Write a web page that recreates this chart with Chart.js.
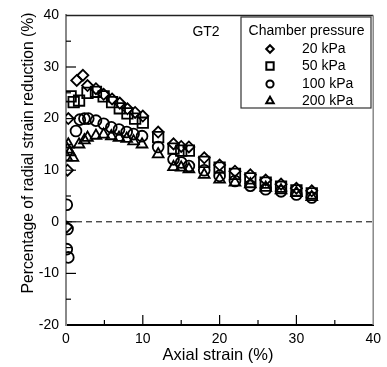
<!DOCTYPE html>
<html><head><meta charset="utf-8">
<script src="https://cdn.jsdelivr.net/npm/chart.js@4/dist/chart.umd.min.js"></script>
<style>html,body{margin:0;padding:0;background:#fff}#wrap{width:387px;height:367px}</style>
</head><body><div id="wrap"><canvas id="c" width="387" height="367"></canvas></div>
<script>
// ---- data ----
const seriesLabels = ['20 kPa', '50 kPa', '100 kPa', '200 kPa'];
const xTicks = [0, 10, 20, 30, 40];
const yTicks = [-20, -10, 0, 10, 20, 30, 40];

const x20  = [0.1, 0.2, 0.3, 1.4, 2.2, 2.8, 3.9, 4.9, 6.0, 7.0, 8.0, 9.0, 10.0, 12, 14, 15, 16, 18, 20, 22, 24, 26, 28, 30, 32];
const y20  = [-1.0, 10.0, 20.0, 27.4, 28.4, 26.4, 25.8, 24.7, 23.8, 23.0, 21.9, 21.2, 20.5, 17.4, 15.1, 14.6, 14.5, 12.4, 11.0, 9.8, 9.1, 8.1, 7.3, 6.5, 6.0];

const x50  = [0.6, 1.0, 1.7, 2.8, 3.9, 4.9, 6.0, 7.0, 8.0, 9.0, 10.0, 12, 14, 15, 16, 18, 20, 22, 24, 26, 28, 30, 32];
const y50  = [24.3, 23.2, 23.5, 25.0, 25.2, 24.3, 23.2, 22.0, 21.0, 20.0, 19.2, 16.4, 14.2, 13.8, 13.8, 11.6, 10.5, 9.3, 8.4, 7.6, 6.8, 6.1, 5.5];

const x100 = [0.1, 0.2, 0.1, 0.3, 1.3, 1.8, 2.4, 2.9, 3.9, 4.9, 5.9, 6.9, 7.9, 8.8, 9.9, 12, 14, 15, 16, 18, 20, 22, 24, 26, 28, 30, 32];
const y100 = [3.3, -1.4, -5.3, -6.9, 17.6, 19.8, 20.0, 20.0, 19.6, 19.0, 18.3, 17.9, 17.4, 17.0, 16.6, 14.5, 12.1, 11.5, 10.8, 10.0, 8.9, 7.9, 7.0, 6.3, 5.9, 5.3, 4.7];

const x200 = [0.1, 0.2, 0.3, 0.5, 0.9, 1.7, 2.4, 2.8, 3.9, 4.9, 5.9, 6.9, 7.9, 8.8, 9.9, 12, 14, 15, 16, 18, 20, 22, 24, 26, 28, 30, 32];
const y200 = [12.5, 14.0, 15.0, 13.5, 12.4, 15.0, 15.8, 16.3, 16.7, 16.9, 16.6, 16.3, 16.1, 15.6, 15.0, 13.1, 10.6, 10.5, 10.2, 9.1, 8.2, 7.6, 7.3, 6.6, 6.1, 5.6, 4.8];

// ---- build ----
const FONT = '"Liberation Sans", Arial, sans-serif';
const pts = (xs, ys) => xs.map((x, i) => ({x: x, y: ys[i]}));
const styles = [
  {pointStyle: 'rectRot', r: 5.5, lr: 3.8},
  {pointStyle: 'rect', r: 7.4, lr: 5.2},
  {pointStyle: 'circle', r: 5.4, lr: 3.6},
  {pointStyle: 'triangle', r: 6.2, lr: 4.3}
];
const allData = [pts(x20, y20), pts(x50, y50), pts(x100, y100), pts(x200, y200)];
const datasets = allData.map((d, i) => ({
  label: seriesLabels[i],
  data: d,
  showLine: false,
  pointStyle: styles[i].pointStyle,
  pointRadius: styles[i].r,
  pointHoverRadius: styles[i].r,
  pointBorderColor: '#000',
  pointBackgroundColor: 'rgba(0,0,0,0)',
  pointBorderWidth: 1.8
}));

const decor = {
  id: 'decor',
  beforeDatasetsDraw(chart) {
    const {ctx, chartArea: a, scales: {x, y}} = chart;
    ctx.save();
    const y0 = y.getPixelForValue(0);
    ctx.strokeStyle = '#000'; ctx.lineWidth = 1; ctx.setLineDash([6, 4]);
    ctx.beginPath(); ctx.moveTo(a.left, y0); ctx.lineTo(a.right, y0); ctx.stroke();
    ctx.setLineDash([]);
    ctx.restore();
  },
  afterDraw(chart) {
    const {ctx, chartArea: a, scales: {x, y}} = chart;
    ctx.save();
    ctx.lineWidth = 1.5;
    ctx.strokeStyle = '#222';
    ctx.beginPath(); ctx.moveTo(a.left, a.top); ctx.lineTo(a.right, a.top); ctx.stroke();
    ctx.strokeStyle = '#888';
    ctx.beginPath(); ctx.moveTo(a.right, a.top); ctx.lineTo(a.right, a.bottom); ctx.stroke();
    ctx.strokeStyle = '#000'; ctx.lineWidth = 1.2;
    for (let v = 5; v < 40; v += 5) {
      const px = x.getPixelForValue(v), len = v % 10 === 0 ? 10 : 5;
      ctx.beginPath(); ctx.moveTo(px, a.bottom); ctx.lineTo(px, a.bottom - len); ctx.stroke();
    }
    for (let v = -15; v < 40; v += 5) {
      const py = y.getPixelForValue(v), len = v % 10 === 0 ? 10 : 5;
      ctx.beginPath(); ctx.moveTo(a.left, py); ctx.lineTo(a.left + len, py); ctx.stroke();
    }
    ctx.fillStyle = '#000';
    ctx.font = '16.5px ' + FONT;
    ctx.textAlign = 'center'; ctx.textBaseline = 'middle';
    ctx.fillText('Axial strain (%)', 218, 355);
    ctx.save();
    ctx.font = '15.7px ' + FONT;
    ctx.translate(29, 153); ctx.rotate(-Math.PI / 2);
    ctx.fillText('Percentage of radial strain reduction (%)', 0, 0);
    ctx.restore();
    ctx.font = '14px ' + FONT;
    ctx.fillText('GT2', 206, 32);
    const L = 241, T = 17, R = 371, B = 108;
    ctx.strokeStyle = '#333'; ctx.lineWidth = 1.2;
    ctx.strokeRect(L, T, R - L, B - T);
    ctx.fillStyle = '#000';
    ctx.font = '14px ' + FONT;
    ctx.textAlign = 'center';
    ctx.fillText('Chamber pressure', (L + R) / 2 + 0.5, 31);
    const rows = [49, 66, 84, 101];
    ctx.textAlign = 'left';
    seriesLabels.forEach((lab, i) => {
      ctx.strokeStyle = '#000'; ctx.lineWidth = 2;
      ctx.fillStyle = 'rgba(0,0,0,0)';
      Chart.helpers.drawPoint(ctx, {pointStyle: styles[i].pointStyle, radius: styles[i].lr, borderWidth: 2}, 270, rows[i]);
      ctx.fillStyle = '#000';
      ctx.fillText(lab, 302, rows[i]);
    });
    ctx.restore();
  }
};

new Chart(document.getElementById('c'), {
  type: 'scatter',
  data: {datasets},
  options: {
    responsive: false,
    animation: false,
    events: [],
    layout: {padding: {top: 14, right: 10, left: 0, bottom: 0}},
    plugins: {legend: {display: false}, tooltip: {enabled: false}},
    scales: {
      x: {
        type: 'linear', min: 0, max: 40,
        afterFit: s => { s.height = 42; },
        afterBuildTicks: s => { s.ticks = xTicks.map(v => ({value: v})); },
        grid: {display: true, drawOnChartArea: false, drawTicks: false},
        border: {display: true, color: '#000', width: 2},
        ticks: {color: '#000', font: {family: FONT, size: 14}, padding: 6, maxRotation: 0}
      },
      y: {
        type: 'linear', min: -20, max: 40,
        afterFit: s => { s.width = 66; },
        afterBuildTicks: s => { s.ticks = yTicks.map(v => ({value: v})); },
        grid: {display: true, drawOnChartArea: false, drawTicks: false},
        border: {display: true, color: '#888', width: 2},
        ticks: {color: '#000', font: {family: FONT, size: 14}, padding: 7}
      }
    }
  },
  plugins: [decor]
});
</script>
</body></html>
